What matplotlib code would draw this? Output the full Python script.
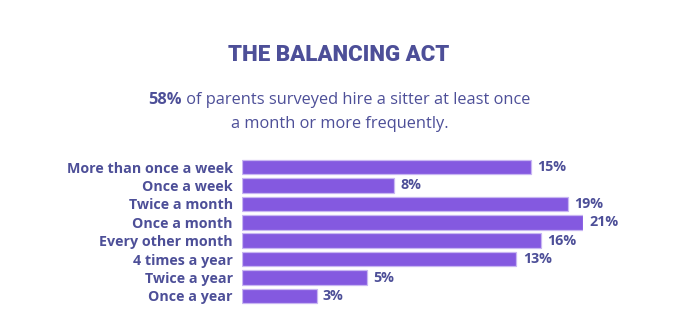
import matplotlib
matplotlib.use("Agg")
import matplotlib.pyplot as plt

categories = ["More than once a week", "Once a week", "Twice a month", "Once a month",
              "Every other month", "4 times a year", "Twice a year", "Once a year"]
share_labels = ["15%", "8%", "19%", "21%", "16%", "13%", "5%", "3%"]
# bar lengths as drawn in the picture (scaled so the longest bar reads 21)
bar_lengths = [17.8, 9.35, 20.1, 21.0, 18.4, 16.9, 7.7, 4.6]

title = "THE BALANCING ACT"
sub_bold = "58%"
sub_rest = " of parents surveyed hire a sitter at least once"
sub_line2 = "a month or more frequently."

TEXT = "#4D4F98"
BAR = "#8459E0"
EDGE = "#C8B6F2"
BODY = ["Open Sans", "DejaVu Sans"]
HEAD = ["Roboto", "DejaVu Sans"]

plt.rcParams['font.family'] = BODY

W, H = 677, 333
fig = plt.figure(figsize=(W / 100, H / 100), dpi=100)
fig.patch.set_facecolor("white")

ax_left, ax_right = 242, 583
ax_top, ax_bottom = 157.8, 305.2
ax = fig.add_axes([ax_left / W, 1 - ax_bottom / H, (ax_right - ax_left) / W, (ax_bottom - ax_top) / H])
ypos = list(range(len(categories)))
ax.barh(ypos, bar_lengths, height=0.79, color=BAR, edgecolor=EDGE, linewidth=0.9)
ax.set_xlim(0, 21.0)
ax.set_ylim(len(categories) - 0.5, -0.5)
ax.set_yticks(ypos)
ax.set_yticklabels(categories, fontsize=10.25, fontweight="bold", color=TEXT)
ax.tick_params(axis="y", length=0, pad=6.5)
ax.set_xticks([])
for s in ax.spines.values():
    s.set_visible(False)
ax.patch.set_alpha(0)

for y, v, lab in zip(ypos, bar_lengths, share_labels):
    ax.annotate(lab, (v, y), xytext=(4.5, 0), textcoords="offset points",
                va="center", ha="left", fontsize=10.25, fontweight="bold", color=TEXT)

fig.text(0.5, 1 - 61 / H, title, ha="center", va="baseline", fontsize=16,
         fontweight="black", color=TEXT, family=HEAD)

# subtitle line 1 with bold part
fs = 11.8
t1 = fig.text(0, 1 - 104 / H, sub_bold, ha="left", va="baseline", fontsize=fs,
              fontweight="bold", color=TEXT)
t2 = fig.text(0, 1 - 104 / H, sub_rest, ha="left", va="baseline", fontsize=fs,
              fontweight="normal", color=TEXT)
fig.canvas.draw()
r = fig.canvas.get_renderer()
w1 = t1.get_window_extent(r).width
w2 = t2.get_window_extent(r).width
cx = 339.5
start = cx - (w1 + w2) / 2
t1.set_x(start / W)
t2.set_x((start + w1) / W)
fig.text(cx / W, 1 - 128 / H, sub_line2, ha="center", va="baseline", fontsize=fs,
         fontweight="normal", color=TEXT)

fig.savefig("out.png", dpi=100, facecolor="white")
